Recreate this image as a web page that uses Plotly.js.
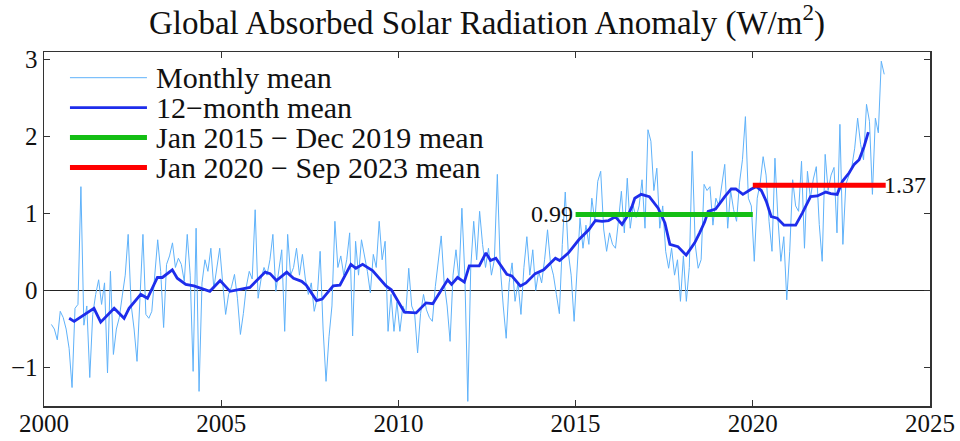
<!DOCTYPE html>
<html>
<head>
<meta charset="utf-8">
<script src="https://cdn.plot.ly/plotly-3.0.1.min.js"></script>
<style>
  body { margin: 0; background: #fff; }
  #myDiv { width: 960px; height: 441px; }
</style>
</head>
<body>
<div id="myDiv"></div>
<script>
// monthly anomaly, W/m2, starts Mar 2000, one row per year
let firstYear = 2000;
let firstMonth = 3;
let monthlyMean = [
  -0.44, -0.50, -0.64, -0.27, -0.35, -0.50, -0.75, -1.26, -0.23, -0.18,
  1.35, -0.45, -0.20, -1.13, -0.31, -0.05, 0.14, -0.18, 0.10, -1.07, 0.25, -0.83,
  -0.50, -0.35, -0.07, 0.20, 0.73, -0.18, -0.50, -0.92, -0.10, 0.73, -0.31, -0.36,
  -0.27, 0.20, 0.66, 0.25, -0.48, 0.34, 0.45, 0.62, 0.30, 0.42, 0.34, 0.12,
  0.73, 0.20, -1.05, 0.81, -1.31, 0.10, 0.40, 0.25, 0.55, 0.03, 0.30, 0.55,
  0.10, -0.31, -0.05, 0.05, 0.21, -0.10, -0.57, -0.30, 0.05, 0.25, 0.15, 1.05,
  -0.10, 0.15, 0.30, 0.20, 0.40, 0.73, -0.01, 0.25, 0.53, -0.53, 0.73, 0.20,
  0.30, 0.55, 0.20, 0.47, 0.15, -0.05, 0.10, -0.27, -0.10, 0.51, -0.50, -1.18,
  -0.60, -0.20, 0.90, 0.30, 0.45, 0.20, 0.40, 0.75, -0.59, 0.64, 0.20, 0.66,
  0.45, 0.25, -0.03, 0.47, 0.30, 0.90, 0.40, 0.64, -0.53, -0.05, -0.53, -0.15,
  -0.53, -0.20, -0.30, 0.29, -0.20, -0.30, -0.81, -0.30, -0.05, -0.25, -0.35, -0.40,
  0.05, 0.40, 0.71, 0.10, -0.20, -0.66, 0.20, 0.53, 0.15, 1.07, 0.20, -1.44,
  0.30, 0.90, 0.40, 1.03, 0.60, 0.30, 0.55, 0.20, 0.40, 1.51, 0.30, -0.20,
  -0.62, 0.10, 0.36, -0.14, 0.10, -0.31, 0.30, 0.70, 0.20, 0.53, 0.00, 0.25,
  0.10, 0.40, 0.79, 0.35, 0.20, -0.05, -0.30, 0.60, 1.28, 0.50, 0.20, -0.40,
  0.30, 0.94, 0.55, 0.85, 0.60, 1.20, 0.90, 1.42, 1.55, 0.80, 0.51, 0.75,
  0.60, 0.55, 0.90, 1.29, 0.75, 1.46, 0.81, 1.10, 0.95, 1.10, 1.44, 0.81,
  2.09, 1.94, 1.30, 1.59, 0.81, 1.10, 0.51, 0.29, 0.55, 0.20, 0.40, -0.14,
  0.45, -0.14, 0.30, 1.81, 0.60, 0.29, 0.40, 1.38, 1.30, 1.35, 0.85, 1.20,
  1.10, 1.35, 1.64, 0.81, 1.30, 1.05, 0.90, 1.40, 1.70, 2.26, 1.20, 1.10,
  0.38, 1.20, 1.40, 1.74, 1.50, 0.90, 0.51, 1.72, 0.94, 0.38, 0.70, -0.12,
  0.51, 1.44, 1.10, 1.03, 1.68, 0.55, 1.55, 1.20, 1.45, 1.61, 0.86, 0.38,
  1.77, 1.30, 1.50, 1.60, 0.75, 2.16, 0.60, 1.38, 1.50, 1.60, 1.85, 2.24,
  1.90, 1.70, 2.42, 2.20, 1.25, 2.24, 2.05, 2.98, 2.81
];

// 12-month running mean
let smoothYear = [
  2000.71, 2000.85, 2001.41, 2001.60, 2001.98, 2002.26, 2002.40, 2002.73, 2002.92,
  2003.20, 2003.34, 2003.62, 2003.76, 2004.00, 2004.23, 2004.68, 2004.97, 2005.25,
  2005.81, 2006.24, 2006.38, 2006.56, 2006.85, 2007.04, 2007.27, 2007.40, 2007.69,
  2007.85, 2008.16, 2008.35, 2008.66, 2008.80, 2008.99, 2009.27, 2009.65, 2009.80,
  2010.17, 2010.50, 2010.78, 2010.97, 2011.39, 2011.50, 2011.67, 2011.86, 2012.00,
  2012.28, 2012.47, 2012.60, 2012.75, 2013.06, 2013.20, 2013.44, 2013.60, 2013.86,
  2014.10, 2014.43, 2014.55, 2014.80, 2015.09, 2015.37, 2015.56, 2015.75, 2015.93,
  2016.12, 2016.31, 2016.48, 2016.59, 2016.67, 2016.85, 2017.08, 2017.33, 2017.52,
  2017.66, 2017.89, 2018.12, 2018.36, 2018.50, 2018.64, 2018.74, 2018.95, 2019.21,
  2019.39, 2019.52, 2019.72, 2019.96, 2020.10, 2020.24, 2020.38, 2020.52, 2020.69,
  2020.88, 2021.21, 2021.40, 2021.63, 2021.82, 2022.06, 2022.20, 2022.38, 2022.53,
  2022.72, 2022.86, 2023.00, 2023.14, 2023.26
];
let smoothMean = [
  -0.36, -0.40, -0.23, -0.41, -0.23, -0.36, -0.23, -0.05, -0.10,
  0.17, 0.17, 0.27, 0.16, 0.08, 0.06, -0.01, 0.13, -0.01,
  0.04, 0.24, 0.22, 0.13, 0.24, 0.16, 0.12, 0.07, -0.13,
  -0.11, 0.06, 0.07, 0.34, 0.29, 0.34, 0.26, 0.06, 0.01,
  -0.28, -0.29, -0.16, -0.17, 0.14, 0.08, 0.17, 0.11, 0.32,
  0.32, 0.49, 0.39, 0.42, 0.21, 0.19, 0.06, 0.10, 0.22,
  0.27, 0.42, 0.39, 0.49, 0.66, 0.79, 0.91, 0.90, 0.91,
  0.96, 0.86, 0.98, 1.09, 1.20, 1.25, 1.22, 1.07, 0.88,
  0.60, 0.57, 0.46, 0.62, 0.75, 0.89, 1.03, 1.06, 1.22,
  1.32, 1.32, 1.25, 1.32, 1.35, 1.30, 1.16, 0.96, 0.94,
  0.85, 0.85, 1.01, 1.22, 1.23, 1.28, 1.26, 1.25, 1.42,
  1.53, 1.64, 1.70, 1.87, 2.06
];

// period means
let periodNames = ["Jan 2015 \u2212 Dec 2019 mean", "Jan 2020 \u2212 Sep 2023 mean"];
let periodStart = [2015.0, 2020.0];
let periodEnd = [2020.0, 2023.75];
let periodValue = [0.99, 1.37];
let periodColor = ["rgb(20, 190, 20)", "rgb(255, 0, 0)"];

let monthlyYear = monthlyMean.map((v, i) => firstYear + (firstMonth - 1 + i + 0.5) / 12);

let font = "Liberation Serif, Times New Roman, serif";

let monthlyTrace = {
  x: monthlyYear,
  y: monthlyMean,
  mode: "lines",
  line: { color: "rgb(95, 178, 250)", width: 1 },
  name: "Monthly mean"
};

let smoothTrace = {
  x: smoothYear,
  y: smoothMean,
  mode: "lines",
  line: { color: "rgb(30, 45, 235)", width: 2.8 },
  name: "12\u2212month mean"
};

let data = [monthlyTrace, smoothTrace];

for (let i = 0; i < periodValue.length; i++) {
  data.push({
    x: [periodStart[i], periodEnd[i]],
    y: [periodValue[i], periodValue[i]],
    mode: "lines",
    line: { color: periodColor[i], width: 5 },
    name: periodNames[i]
  });
}

// hand-made legend, top left
let legendItems = [
  { name: monthlyTrace.name, color: monthlyTrace.line.color, width: 1 },
  { name: smoothTrace.name, color: smoothTrace.line.color, width: 2.8 },
  { name: periodNames[0], color: periodColor[0], width: 5 },
  { name: periodNames[1], color: periodColor[1], width: 5 }
];

let shapes = [];
let annotations = [];

legendItems.forEach((item, i) => {
  let yy = 1 - (25.7 + i * 29.9) / 354;
  shapes.push({
    type: "line", xref: "paper", yref: "paper",
    x0: 0.0293, x1: 0.1162, y0: yy, y1: yy,
    line: { color: item.color, width: item.width }
  });
  annotations.push({
    xref: "paper", yref: "paper", x: 0.1236, y: yy,
    xanchor: "left", yanchor: "middle", showarrow: false,
    text: item.name,
    font: { family: font, size: 30, color: "#111" }
  });
});

// value labels next to the period lines
annotations.push({
  x: periodStart[0], y: periodValue[0], xanchor: "right", yanchor: "middle",
  xshift: -1, showarrow: false, text: periodValue[0].toFixed(2),
  font: { family: font, size: 24, color: "#111" }
});
annotations.push({
  x: periodEnd[1], y: periodValue[1], xanchor: "left", yanchor: "middle",
  xshift: -4, showarrow: false, text: periodValue[1].toFixed(2),
  font: { family: font, size: 24, color: "#111" }
});

let axisStyle = {
  showline: true,
  mirror: "ticks",
  linecolor: "#333",
  linewidth: 1.5,
  ticks: "inside",
  ticklen: 6,
  tickwidth: 1.3,
  tickcolor: "#333",
  showgrid: false,
  tickfont: { family: font, size: 25, color: "#111" }
};

let layout = {
  width: 960,
  height: 441,
  margin: { l: 44, r: 30, t: 52, b: 35 },
  paper_bgcolor: "#fff",
  plot_bgcolor: "#fff",
  showlegend: false,
  title: {
    text: "Global Absorbed Solar Radiation Anomaly (W/m<sup>2</sup>)",
    font: { family: font, size: 33, color: "#111" },
    x: 0.5, xref: "paper", y: 0.95, yref: "container", yanchor: "middle"
  },
  xaxis: Object.assign({}, axisStyle, {
    range: [2000, 2025],
    tickvals: [2000, 2005, 2010, 2015, 2020, 2025],
    ticklabelstandoff: -6,
    zeroline: false
  }),
  yaxis: Object.assign({}, axisStyle, {
    range: [-1.5, 3.1],
    tickvals: [-1, 0, 1, 2, 3],
    zeroline: true,
    zerolinecolor: "#222",
    zerolinewidth: 1.2
  }),
  shapes: shapes,
  annotations: annotations
};

Plotly.newPlot("myDiv", data, layout, { displayModeBar: false, staticPlot: true });
</script>
</body>
</html>
